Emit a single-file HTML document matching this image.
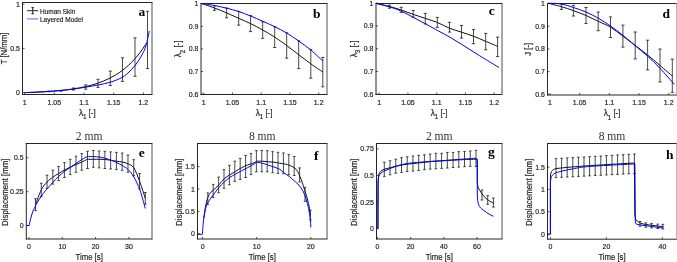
<!DOCTYPE html>
<html><head><meta charset="utf-8"><style>
html,body{margin:0;padding:0;background:#fff;width:677px;height:262px;overflow:hidden}
svg{display:block;will-change:transform;filter:blur(0.3px)}
.t{font-family:"Liberation Sans",sans-serif;font-size:7.3px;fill:#262626;stroke:#262626;stroke-width:0.18px}
.l{font-family:"Liberation Sans",sans-serif;font-size:8px;fill:#262626;stroke:#262626;stroke-width:0.18px}
.lg{font-family:"Liberation Sans",sans-serif;font-size:6.5px;fill:#111;stroke:#111;stroke-width:0.12px}
.ltr{font-family:"Liberation Serif",serif;font-size:13.5px;font-weight:bold;fill:#000}
.ttl{font-family:"Liberation Serif",serif;font-size:11.6px;fill:#333}
</style></head><body>
<svg width="677" height="262" viewBox="0 0 677 262">
<rect width="677" height="262" fill="#fff"/>
<path d="M22.5,2.5 H152 M22.5,2.5 V94.5" stroke="#262626" stroke-width="1" fill="none" stroke-linecap="square"/>
<path d="M22.5,94.5 H152" stroke="#262626" stroke-width="1" fill="none" stroke-linecap="square"/>
<path d="M152,2.5 V94.5" stroke="#505050" stroke-width="1" fill="none"/>
<path d="M24.6,94.5 V92.5" stroke="#262626" stroke-width="0.8"/>
<text transform="translate(24.6,104.5) scale(0.96,1.06)" text-anchor="middle" class="t">1</text>
<path d="M54.3,94.5 V92.5" stroke="#262626" stroke-width="0.8"/>
<text transform="translate(54.3,104.5) scale(0.96,1.06)" text-anchor="middle" class="t">1.05</text>
<path d="M84,94.5 V92.5" stroke="#262626" stroke-width="0.8"/>
<text transform="translate(84,104.5) scale(0.96,1.06)" text-anchor="middle" class="t">1.1</text>
<path d="M113.7,94.5 V92.5" stroke="#262626" stroke-width="0.8"/>
<text transform="translate(113.7,104.5) scale(0.96,1.06)" text-anchor="middle" class="t">1.15</text>
<path d="M143.4,94.5 V92.5" stroke="#262626" stroke-width="0.8"/>
<text transform="translate(143.4,104.5) scale(0.96,1.06)" text-anchor="middle" class="t">1.2</text>
<path d="M22.5,92.6 H24.5" stroke="#262626" stroke-width="0.8"/>
<text transform="translate(19.9,95.1) scale(0.96,1.06)" text-anchor="end" class="t">0</text>
<path d="M22.5,48.4 H24.5" stroke="#262626" stroke-width="0.8"/>
<text transform="translate(19.9,50.9) scale(0.96,1.06)" text-anchor="end" class="t">0.5</text>
<path d="M22.5,4.2 H24.5" stroke="#262626" stroke-width="0.8"/>
<text transform="translate(19.9,6.7) scale(0.96,1.06)" text-anchor="end" class="t">1</text>
<text transform="translate(87.25,115.9) scale(0.97,1.1)" text-anchor="middle" class="l"><tspan font-size="8.5">&#955;</tspan><tspan dy="3.2" font-size="6.5">1</tspan><tspan dy="-3.2"> [-]</tspan></text>
<text transform="translate(7.2,48.5) rotate(-90) scale(0.97,1.1)" text-anchor="middle" class="l">T [N/mm]</text>
<text x="138.5" y="15.5" class="ltr">a</text>
<path d="M24.6,92.6 C25.62,92.57 28.67,92.48 30.7,92.4 C32.73,92.33 34.77,92.25 36.8,92.16 C38.83,92.07 40.87,91.97 42.9,91.86 C44.93,91.74 46.97,91.62 49,91.48 C51.03,91.34 53.07,91.19 55.1,91.02 C57.13,90.85 59.17,90.66 61.2,90.45 C63.23,90.24 65.27,90.02 67.3,89.76 C69.33,89.5 71.37,89.22 73.4,88.91 C75.43,88.59 77.47,88.25 79.5,87.87 C81.53,87.48 83.57,87.07 85.6,86.6 C87.63,86.13 89.67,85.63 91.7,85.05 C93.73,84.48 95.77,83.87 97.8,83.17 C99.83,82.47 101.87,81.72 103.9,80.87 C105.93,80.02 107.97,79.11 110,78.08 C112.03,77.05 114.07,75.93 116.1,74.68 C118.13,73.42 120.17,72.07 122.2,70.54 C124.23,69.01 126.27,67.37 128.3,65.51 C130.33,63.65 132.37,61.65 134.4,59.39 C136.43,57.13 138.47,54.7 140.5,51.95 C142.53,49.2 145.58,44.41 146.6,42.91" stroke="#111" stroke-width="1.0" fill="none" stroke-linejoin="round"/>
<path d="M48.8,91.1 V91.7 M47.2,91.1 H50.4 M47.2,91.7 H50.4 M61,90.3 V91.2 M59.4,90.3 H62.6 M59.4,91.2 H62.6 M73.6,88 V90 M72,88 H75.2 M72,90 H75.2 M85.7,84.9 V89.2 M84.1,84.9 H87.3 M84.1,89.2 H87.3 M98,79.3 V87.4 M96.4,79.3 H99.6 M96.4,87.4 H99.6 M110.3,71.1 V85.5 M108.7,71.1 H111.9 M108.7,85.5 H111.9 M122.5,57.8 V81.4 M120.9,57.8 H124.1 M120.9,81.4 H124.1 M135,37.9 V76.3 M133.4,37.9 H136.6 M133.4,76.3 H136.6 M147.5,11.3 V68.5 M145.9,11.3 H149.1 M145.9,68.5 H149.1 " stroke="#1a1a1a" stroke-width="0.8" fill="none"/>
<path d="M24.6,92.6 C26.65,92.52 32.87,92.3 36.9,92.1 C40.93,91.9 44.78,91.67 48.8,91.4 C52.82,91.13 56.92,90.88 61,90.5 C65.08,90.12 69.18,89.65 73.3,89.1 C77.42,88.55 81.58,87.88 85.7,87.2 C89.82,86.52 93.9,85.83 98,85 C102.1,84.17 106.47,83.37 110.3,82.2 C114.13,81.03 118.05,79.53 121,78 C123.95,76.47 125.63,75.12 128,73 C130.37,70.88 132.98,68.13 135.2,65.3 C137.42,62.47 139.52,59.22 141.3,56 C143.08,52.78 144.57,50.17 145.9,46 C147.23,41.83 148.73,33.5 149.3,31" stroke="#0000ff" stroke-width="1.0" fill="none" stroke-linejoin="round"/>
<path d="M27,10.7 H38.3 M32.7,7.6 V13.8 M31.4,7.6 H34 M31.4,13.8 H34" stroke="#111" stroke-width="0.9"/>
<path d="M27,18.9 H38.3" stroke="#6b6bff" stroke-width="1.1"/>
<text x="40" y="13.8" class="lg">Human Skin</text>
<text x="40" y="21.5" class="lg">Layered Model</text>
<path d="M201,3.5 H327 M201,3.5 V94.5" stroke="#262626" stroke-width="1" fill="none" stroke-linecap="square"/>
<path d="M201,94.5 H327" stroke="#262626" stroke-width="1" fill="none" stroke-linecap="square"/>
<path d="M327,3.5 V94.5" stroke="#505050" stroke-width="1" fill="none"/>
<path d="M203.7,94.5 V92.5" stroke="#262626" stroke-width="0.8"/>
<text transform="translate(203.7,104.5) scale(0.96,1.06)" text-anchor="middle" class="t">1</text>
<path d="M232.45,94.5 V92.5" stroke="#262626" stroke-width="0.8"/>
<text transform="translate(232.45,104.5) scale(0.96,1.06)" text-anchor="middle" class="t">1.05</text>
<path d="M261.2,94.5 V92.5" stroke="#262626" stroke-width="0.8"/>
<text transform="translate(261.2,104.5) scale(0.96,1.06)" text-anchor="middle" class="t">1.1</text>
<path d="M289.95,94.5 V92.5" stroke="#262626" stroke-width="0.8"/>
<text transform="translate(289.95,104.5) scale(0.96,1.06)" text-anchor="middle" class="t">1.15</text>
<path d="M318.7,94.5 V92.5" stroke="#262626" stroke-width="0.8"/>
<text transform="translate(318.7,104.5) scale(0.96,1.06)" text-anchor="middle" class="t">1.2</text>
<path d="M201,3.8 H203" stroke="#262626" stroke-width="0.8"/>
<text transform="translate(198.4,6.3) scale(0.96,1.06)" text-anchor="end" class="t">1</text>
<path d="M201,26.37 H203" stroke="#262626" stroke-width="0.8"/>
<text transform="translate(198.4,28.87) scale(0.96,1.06)" text-anchor="end" class="t">0.9</text>
<path d="M201,48.95 H203" stroke="#262626" stroke-width="0.8"/>
<text transform="translate(198.4,51.45) scale(0.96,1.06)" text-anchor="end" class="t">0.8</text>
<path d="M201,71.53 H203" stroke="#262626" stroke-width="0.8"/>
<text transform="translate(198.4,74.03) scale(0.96,1.06)" text-anchor="end" class="t">0.7</text>
<path d="M201,94.1 H203" stroke="#262626" stroke-width="0.8"/>
<text transform="translate(198.4,96.6) scale(0.96,1.06)" text-anchor="end" class="t">0.6</text>
<text transform="translate(264,115.9) scale(0.97,1.1)" text-anchor="middle" class="l"><tspan font-size="8.5">&#955;</tspan><tspan dy="3.2" font-size="6.5">1</tspan><tspan dy="-3.2"> [-]</tspan></text>
<text transform="translate(181,49) rotate(-90) scale(0.97,1.1)" text-anchor="middle" class="l"><tspan font-size="8.5">&#955;</tspan><tspan dy="3.2" font-size="6.5">2</tspan><tspan dy="-3.2"> [-]</tspan></text>
<text x="313" y="17.5" class="ltr">b</text>
<path d="M201.4,3.4 C203.58,4.17 210.3,6.42 214.5,8 C218.7,9.58 222.57,11.18 226.6,12.9 C230.63,14.62 234.7,16.52 238.7,18.3 C242.7,20.08 246.6,21.65 250.6,23.6 C254.6,25.55 258.68,27.75 262.7,30 C266.72,32.25 270.7,34.52 274.7,37.1 C278.7,39.68 282.7,42.57 286.7,45.5 C290.7,48.43 294.68,51.65 298.7,54.7 C302.72,57.75 306.78,60.9 310.8,63.8 C314.82,66.7 320.8,70.72 322.8,72.1" stroke="#111" stroke-width="1.0" fill="none" stroke-linejoin="round"/>
<path d="M214.5,5.7 V10.3 M212.9,5.7 H216.1 M212.9,10.3 H216.1 M226.6,8 V17.8 M225,8 H228.2 M225,17.8 H228.2 M238.7,11.4 V25.2 M237.1,11.4 H240.3 M237.1,25.2 H240.3 M250.6,15.6 V31.6 M249,15.6 H252.2 M249,31.6 H252.2 M262.7,21.7 V38.4 M261.1,21.7 H264.3 M261.1,38.4 H264.3 M274.7,26.7 V47.5 M273.1,26.7 H276.3 M273.1,47.5 H276.3 M286.7,32.8 V58.2 M285.1,32.8 H288.3 M285.1,58.2 H288.3 M298.7,40.8 V68.6 M297.1,40.8 H300.3 M297.1,68.6 H300.3 M310.8,49.4 V78.2 M309.2,49.4 H312.4 M309.2,78.2 H312.4 M322.8,57.4 V86.8 M321.2,57.4 H324.4 M321.2,86.8 H324.4 " stroke="#1a1a1a" stroke-width="0.8" fill="none"/>
<path d="M201.4,3.4 C203.58,3.75 210.3,4.7 214.5,5.5 C218.7,6.3 222.57,7.2 226.6,8.2 C230.63,9.2 234.7,10.2 238.7,11.5 C242.7,12.8 246.6,14.37 250.6,16 C254.6,17.63 258.68,19.52 262.7,21.3 C266.72,23.08 270.7,24.75 274.7,26.7 C278.7,28.65 282.7,30.62 286.7,33 C290.7,35.38 294.68,38.17 298.7,41 C302.72,43.83 306.78,46.67 310.8,50 C314.82,53.33 320.8,59.17 322.8,61" stroke="#0000ff" stroke-width="1.0" fill="none" stroke-linejoin="round"/>
<path d="M376,3.5 H502 M376,3.5 V94.5" stroke="#262626" stroke-width="1" fill="none" stroke-linecap="square"/>
<path d="M376,94.5 H502" stroke="#262626" stroke-width="1" fill="none" stroke-linecap="square"/>
<path d="M502,3.5 V94.5" stroke="#505050" stroke-width="1" fill="none"/>
<path d="M379.2,94.5 V92.5" stroke="#262626" stroke-width="0.8"/>
<text transform="translate(379.2,104.5) scale(0.96,1.06)" text-anchor="middle" class="t">1</text>
<path d="M407.95,94.5 V92.5" stroke="#262626" stroke-width="0.8"/>
<text transform="translate(407.95,104.5) scale(0.96,1.06)" text-anchor="middle" class="t">1.05</text>
<path d="M436.7,94.5 V92.5" stroke="#262626" stroke-width="0.8"/>
<text transform="translate(436.7,104.5) scale(0.96,1.06)" text-anchor="middle" class="t">1.1</text>
<path d="M465.45,94.5 V92.5" stroke="#262626" stroke-width="0.8"/>
<text transform="translate(465.45,104.5) scale(0.96,1.06)" text-anchor="middle" class="t">1.15</text>
<path d="M494.2,94.5 V92.5" stroke="#262626" stroke-width="0.8"/>
<text transform="translate(494.2,104.5) scale(0.96,1.06)" text-anchor="middle" class="t">1.2</text>
<path d="M376,3.2 H378" stroke="#262626" stroke-width="0.8"/>
<text transform="translate(373.4,5.7) scale(0.96,1.06)" text-anchor="end" class="t">1</text>
<path d="M376,25.95 H378" stroke="#262626" stroke-width="0.8"/>
<text transform="translate(373.4,28.45) scale(0.96,1.06)" text-anchor="end" class="t">0.9</text>
<path d="M376,48.7 H378" stroke="#262626" stroke-width="0.8"/>
<text transform="translate(373.4,51.2) scale(0.96,1.06)" text-anchor="end" class="t">0.8</text>
<path d="M376,71.45 H378" stroke="#262626" stroke-width="0.8"/>
<text transform="translate(373.4,73.95) scale(0.96,1.06)" text-anchor="end" class="t">0.7</text>
<path d="M376,94.2 H378" stroke="#262626" stroke-width="0.8"/>
<text transform="translate(373.4,96.7) scale(0.96,1.06)" text-anchor="end" class="t">0.6</text>
<text transform="translate(439,115.9) scale(0.97,1.1)" text-anchor="middle" class="l"><tspan font-size="8.5">&#955;</tspan><tspan dy="3.2" font-size="6.5">1</tspan><tspan dy="-3.2"> [-]</tspan></text>
<text transform="translate(356.5,49) rotate(-90) scale(0.97,1.1)" text-anchor="middle" class="l"><tspan font-size="8.5">&#955;</tspan><tspan dy="3.2" font-size="6.5">3</tspan><tspan dy="-3.2"> [-]</tspan></text>
<text x="488.7" y="15.3" class="ltr">c</text>
<path d="M376,3.2 C378.2,3.73 384.95,5.25 389.2,6.4 C393.45,7.55 397.48,8.77 401.5,10.1 C405.52,11.43 409.33,13.02 413.3,14.4 C417.27,15.78 421.32,17.07 425.3,18.4 C429.28,19.73 433.13,20.75 437.2,22.4 C441.27,24.05 445.62,26.67 449.7,28.3 C453.78,29.93 457.7,30.87 461.7,32.2 C465.7,33.53 469.68,34.77 473.7,36.3 C477.72,37.83 481.78,39.72 485.8,41.4 C489.82,43.08 495.8,45.57 497.8,46.4" stroke="#111" stroke-width="1.0" fill="none" stroke-linejoin="round"/>
<path d="M389.4,5.2 V8.2 M387.8,5.2 H391 M387.8,8.2 H391 M401.2,7.3 V12.5 M399.6,7.3 H402.8 M399.6,12.5 H402.8 M413.2,10.4 V17.1 M411.6,10.4 H414.8 M411.6,17.1 H414.8 M425.3,13.4 V24 M423.7,13.4 H426.9 M423.7,24 H426.9 M437.3,17.4 V27.4 M435.7,17.4 H438.9 M435.7,27.4 H438.9 M449.5,22.3 V32.1 M447.9,22.3 H451.1 M447.9,32.1 H451.1 M461.5,25.4 V38.1 M459.9,25.4 H463.1 M459.9,38.1 H463.1 M473.5,29.5 V43.7 M471.9,29.5 H475.1 M471.9,43.7 H475.1 M485.7,33.4 V49.8 M484.1,33.4 H487.3 M484.1,49.8 H487.3 M497.6,37.1 V56.6 M496,37.1 H499.2 M496,56.6 H499.2 " stroke="#1a1a1a" stroke-width="0.8" fill="none"/>
<path d="M376,3.5 C378.25,4.07 385.35,5.67 389.5,6.9 C393.65,8.13 396.97,9.17 400.9,10.9 C404.83,12.63 409.02,15.15 413.1,17.3 C417.18,19.45 421.38,21.63 425.4,23.8 C429.42,25.97 433.15,28.1 437.2,30.3 C441.25,32.5 445.62,34.65 449.7,37 C453.78,39.35 457.7,41.9 461.7,44.4 C465.7,46.9 469.68,49.48 473.7,52 C477.72,54.52 481.58,56.92 485.8,59.5 C490.02,62.08 496.8,66.17 499,67.5" stroke="#0000ff" stroke-width="1.0" fill="none" stroke-linejoin="round"/>
<path d="M547.5,3.5 H676.5 M547.5,3.5 V95" stroke="#262626" stroke-width="1" fill="none" stroke-linecap="square"/>
<path d="M547.5,95 H676.5" stroke="#262626" stroke-width="1" fill="none" stroke-linecap="square"/>
<path d="M676.5,3.5 V95" stroke="#b8b8b8" stroke-width="1" fill="none"/>
<path d="M550,95 V93" stroke="#262626" stroke-width="0.8"/>
<text transform="translate(550,105) scale(0.96,1.06)" text-anchor="middle" class="t">1</text>
<path d="M579.68,95 V93" stroke="#262626" stroke-width="0.8"/>
<text transform="translate(579.68,105) scale(0.96,1.06)" text-anchor="middle" class="t">1.05</text>
<path d="M609.35,95 V93" stroke="#262626" stroke-width="0.8"/>
<text transform="translate(609.35,105) scale(0.96,1.06)" text-anchor="middle" class="t">1.1</text>
<path d="M639.02,95 V93" stroke="#262626" stroke-width="0.8"/>
<text transform="translate(639.02,105) scale(0.96,1.06)" text-anchor="middle" class="t">1.15</text>
<path d="M668.7,95 V93" stroke="#262626" stroke-width="0.8"/>
<text transform="translate(668.7,105) scale(0.96,1.06)" text-anchor="middle" class="t">1.2</text>
<path d="M547.5,3.5 H549.5" stroke="#262626" stroke-width="0.8"/>
<text transform="translate(544.9,6) scale(0.96,1.06)" text-anchor="end" class="t">1</text>
<path d="M547.5,26.22 H549.5" stroke="#262626" stroke-width="0.8"/>
<text transform="translate(544.9,28.72) scale(0.96,1.06)" text-anchor="end" class="t">0.9</text>
<path d="M547.5,48.94 H549.5" stroke="#262626" stroke-width="0.8"/>
<text transform="translate(544.9,51.44) scale(0.96,1.06)" text-anchor="end" class="t">0.8</text>
<path d="M547.5,71.66 H549.5" stroke="#262626" stroke-width="0.8"/>
<text transform="translate(544.9,74.16) scale(0.96,1.06)" text-anchor="end" class="t">0.7</text>
<path d="M547.5,94.38 H549.5" stroke="#262626" stroke-width="0.8"/>
<text transform="translate(544.9,96.88) scale(0.96,1.06)" text-anchor="end" class="t">0.6</text>
<text transform="translate(612,116.4) scale(0.97,1.1)" text-anchor="middle" class="l"><tspan font-size="8.5">&#955;</tspan><tspan dy="3.2" font-size="6.5">1</tspan><tspan dy="-3.2"> [-]</tspan></text>
<text transform="translate(530.5,49.25) rotate(-90) scale(0.97,1.1)" text-anchor="middle" class="l">J [-]</text>
<text x="662.5" y="17.5" class="ltr">d</text>
<path d="M548,3.2 C550.23,3.78 557.17,5.47 561.4,6.7 C565.63,7.93 569.3,9.13 573.4,10.6 C577.5,12.07 581.87,13.72 586,15.5 C590.13,17.28 594.12,19.35 598.2,21.3 C602.28,23.25 606.38,24.73 610.5,27.2 C614.62,29.67 618.78,33.07 622.9,36.1 C627.02,39.13 631.08,42.25 635.2,45.4 C639.32,48.55 643.47,51.65 647.6,55 C651.73,58.35 655.8,61.93 660,65.5 C664.2,69.07 670.67,74.58 672.8,76.4" stroke="#111" stroke-width="1.0" fill="none" stroke-linejoin="round"/>
<path d="M561.4,4 V9.4 M559.8,4 H563 M559.8,9.4 H563 M573.4,5.3 V16 M571.8,5.3 H575 M571.8,16 H575 M586,7.5 V23.5 M584.4,7.5 H587.6 M584.4,23.5 H587.6 M598.2,12 V30.7 M596.6,12 H599.8 M596.6,30.7 H599.8 M610.5,16.9 V37.5 M608.9,16.9 H612.1 M608.9,37.5 H612.1 M622.9,25.1 V47.1 M621.3,25.1 H624.5 M621.3,47.1 H624.5 M635.2,32 V58.9 M633.6,32 H636.8 M633.6,58.9 H636.8 M647.6,40.2 V69.9 M646,40.2 H649.2 M646,69.9 H649.2 M660,49 V82 M658.4,49 H661.6 M658.4,82 H661.6 M672.3,59.2 V92.3 M670.7,59.2 H673.9 M670.7,92.3 H673.9 " stroke="#1a1a1a" stroke-width="0.8" fill="none"/>
<path d="M548,3.2 C550.23,3.33 557.17,3.28 561.4,4 C565.63,4.72 569.3,6.17 573.4,7.5 C577.5,8.83 581.87,10.22 586,12 C590.13,13.78 594.12,15.87 598.2,18.2 C602.28,20.53 606.38,23.15 610.5,26 C614.62,28.85 618.78,32.02 622.9,35.3 C627.02,38.58 631.08,42.22 635.2,45.7 C639.32,49.18 643.47,52.43 647.6,56.2 C651.73,59.97 655.55,63.62 660,68.3 C664.45,72.98 671.92,81.63 674.3,84.3" stroke="#0000ff" stroke-width="1.0" fill="none" stroke-linejoin="round"/>
<path d="M26.3,143.5 H152 M26.3,143.5 V239" stroke="#262626" stroke-width="1" fill="none" stroke-linecap="square"/>
<path d="M26.3,239 H152" stroke="#262626" stroke-width="1" fill="none" stroke-linecap="square"/>
<path d="M152,143.5 V239" stroke="#505050" stroke-width="1" fill="none"/>
<path d="M29,239 V237" stroke="#262626" stroke-width="0.8"/>
<text transform="translate(29,249) scale(0.96,1.06)" text-anchor="middle" class="t">0</text>
<path d="M62.3,239 V237" stroke="#262626" stroke-width="0.8"/>
<text transform="translate(62.3,249) scale(0.96,1.06)" text-anchor="middle" class="t">10</text>
<path d="M95.6,239 V237" stroke="#262626" stroke-width="0.8"/>
<text transform="translate(95.6,249) scale(0.96,1.06)" text-anchor="middle" class="t">20</text>
<path d="M128.9,239 V237" stroke="#262626" stroke-width="0.8"/>
<text transform="translate(128.9,249) scale(0.96,1.06)" text-anchor="middle" class="t">30</text>
<path d="M26.3,225.6 H28.3" stroke="#262626" stroke-width="0.8"/>
<text transform="translate(23.7,228.1) scale(0.96,1.06)" text-anchor="end" class="t">0</text>
<path d="M26.3,191.7 H28.3" stroke="#262626" stroke-width="0.8"/>
<text transform="translate(23.7,194.2) scale(0.96,1.06)" text-anchor="end" class="t">0.25</text>
<path d="M26.3,157.8 H28.3" stroke="#262626" stroke-width="0.8"/>
<text transform="translate(23.7,160.3) scale(0.96,1.06)" text-anchor="end" class="t">0.5</text>
<text transform="translate(89.15,259.8) scale(0.97,1.1)" text-anchor="middle" class="l">Time [s]</text>
<text transform="translate(7.6,192.25) rotate(-90) scale(0.985,1.1)" text-anchor="middle" class="l">Displacement [mm]</text>
<text x="138.7" y="157.3" class="ltr">e</text>
<text x="89.15" y="140.3" text-anchor="middle" class="ttl">2 mm</text>
<path d="M35.5,204.6 C36.47,202.13 39.37,193.57 41.3,189.8 C43.23,186.03 45.18,184.1 47.1,182 C49.02,179.9 50.88,178.62 52.8,177.2 C54.72,175.78 56.67,174.7 58.6,173.5 C60.53,172.3 62.5,171.03 64.4,170 C66.3,168.97 68.12,168.18 70,167.3 C71.88,166.42 73.78,165.55 75.7,164.7 C77.62,163.85 79.58,163.1 81.5,162.2 C83.42,161.3 86.25,159.78 87.2,159.3" stroke="#111" stroke-width="1.0" fill="none" stroke-linejoin="round"/>
<path d="M87.2,159.3 C88.25,159.3 91.55,159.3 93.5,159.3 C95.45,159.3 97.08,159.28 98.9,159.3 C100.72,159.32 102.5,159.25 104.4,159.4 C106.3,159.55 108.3,159.9 110.3,160.2 C112.3,160.5 114.42,160.9 116.4,161.2 C118.38,161.5 120.27,161.57 122.2,162 C124.13,162.43 126.07,162.83 128,163.8 C129.93,164.77 131.88,164.93 133.8,167.8 C135.72,170.67 137.58,175.92 139.5,181 C141.42,186.08 144.33,195.42 145.3,198.3" stroke="#111" stroke-width="1.0" fill="none" stroke-linejoin="round"/>
<path d="M35.5,198.7 V210.6 M34.2,198.7 H36.8 M34.2,210.6 H36.8 M41.28,183.2 V196.4 M39.98,183.2 H42.58 M39.98,196.4 H42.58 M47.06,175.2 V188.5 M45.76,175.2 H48.36 M45.76,188.5 H48.36 M52.84,170.2 V184.1 M51.54,170.2 H54.14 M51.54,184.1 H54.14 M58.62,166.4 V180.7 M57.32,166.4 H59.92 M57.32,180.7 H59.92 M64.4,162.6 V177.4 M63.1,162.6 H65.7 M63.1,177.4 H65.7 M70.18,159.3 V174.6 M68.88,159.3 H71.48 M68.88,174.6 H71.48 M75.96,156.2 V172.3 M74.66,156.2 H77.26 M74.66,172.3 H77.26 M81.74,153.6 V170.2 M80.44,153.6 H83.04 M80.44,170.2 H83.04 M87.52,151.3 V168.5 M86.22,151.3 H88.82 M86.22,168.5 H88.82 M93.3,150.5 V167.3 M92,150.5 H94.6 M92,167.3 H94.6 M99.08,151 V167.9 M97.78,151 H100.38 M97.78,167.9 H100.38 M104.86,151.3 V168.5 M103.56,151.3 H106.16 M103.56,168.5 H106.16 M110.64,151.9 V169 M109.34,151.9 H111.94 M109.34,169 H111.94 M116.42,152.4 V169.6 M115.12,152.4 H117.72 M115.12,169.6 H117.72 M122.2,153 V170.3 M120.9,153 H123.5 M120.9,170.3 H123.5 M127.98,155.1 V172.2 M126.68,155.1 H129.28 M126.68,172.2 H129.28 M133.76,159.7 V175.7 M132.46,159.7 H135.06 M132.46,175.7 H135.06 M139.54,173.5 V189 M138.24,173.5 H140.84 M138.24,189 H140.84 M145.32,192.5 V204.2 M144.02,192.5 H146.62 M144.02,204.2 H146.62 " stroke="#1a1a1a" stroke-width="0.8" fill="none"/>
<path d="M26.3,225.5 L29.1,225.5" stroke="#0000ff" stroke-width="1"/>
<path d="M29.1,225.5 C29.38,224.28 30.2,220.48 30.8,218.2 C31.4,215.92 32.07,213.57 32.7,211.8 C33.33,210.03 33.8,209.23 34.6,207.6 C35.4,205.97 36.38,203.9 37.5,202 C38.62,200.1 40.03,198 41.3,196.2 C42.57,194.4 43.98,192.6 45.1,191.2 C46.22,189.8 46.75,189.23 48,187.8 C49.25,186.37 50.82,184.5 52.6,182.6 C54.38,180.7 56.67,178.32 58.7,176.4 C60.73,174.48 62.75,172.67 64.8,171.1 C66.85,169.53 69.12,168.3 71,167 C72.88,165.7 74.3,164.53 76.1,163.3 C77.9,162.07 79.95,160.73 81.8,159.6 C83.65,158.47 86.3,157.02 87.2,156.5" stroke="#0000ff" stroke-width="1.0" fill="none" stroke-linejoin="round"/>
<path d="M87.2,156.5 C88.33,156.52 92.03,156.52 94,156.6 C95.97,156.68 97.22,156.75 99,157 C100.78,157.25 102.78,157.6 104.7,158.1 C106.62,158.6 108.58,159.3 110.5,160 C112.42,160.7 114.27,161.38 116.2,162.3 C118.13,163.22 120.13,164.3 122.1,165.5 C124.07,166.7 126.03,167.58 128,169.5 C129.97,171.42 131.9,173.53 133.9,177 C135.9,180.47 138.1,185.05 140,190.3 C141.9,195.55 144.42,205.47 145.3,208.5" stroke="#0000ff" stroke-width="1.0" fill="none" stroke-linejoin="round"/>
<path d="M197.5,143.5 H327 M197.5,143.5 V239" stroke="#262626" stroke-width="1" fill="none" stroke-linecap="square"/>
<path d="M197.5,239 H327" stroke="#262626" stroke-width="1" fill="none" stroke-linecap="square"/>
<path d="M327,143.5 V239" stroke="#505050" stroke-width="1" fill="none"/>
<path d="M202.6,239 V237" stroke="#262626" stroke-width="0.8"/>
<text transform="translate(202.6,249) scale(0.96,1.06)" text-anchor="middle" class="t">0</text>
<path d="M256.7,239 V237" stroke="#262626" stroke-width="0.8"/>
<text transform="translate(256.7,249) scale(0.96,1.06)" text-anchor="middle" class="t">10</text>
<path d="M310.8,239 V237" stroke="#262626" stroke-width="0.8"/>
<text transform="translate(310.8,249) scale(0.96,1.06)" text-anchor="middle" class="t">20</text>
<path d="M197.5,233.5 H199.5" stroke="#262626" stroke-width="0.8"/>
<text transform="translate(194.9,236) scale(0.96,1.06)" text-anchor="end" class="t">0</text>
<path d="M197.5,211.25 H199.5" stroke="#262626" stroke-width="0.8"/>
<text transform="translate(194.9,213.75) scale(0.96,1.06)" text-anchor="end" class="t">0.5</text>
<path d="M197.5,189 H199.5" stroke="#262626" stroke-width="0.8"/>
<text transform="translate(194.9,191.5) scale(0.96,1.06)" text-anchor="end" class="t">1</text>
<path d="M197.5,166.75 H199.5" stroke="#262626" stroke-width="0.8"/>
<text transform="translate(194.9,169.25) scale(0.96,1.06)" text-anchor="end" class="t">1.5</text>
<text transform="translate(262.25,259.8) scale(0.97,1.1)" text-anchor="middle" class="l">Time [s]</text>
<text transform="translate(181.7,192.25) rotate(-90) scale(0.985,1.1)" text-anchor="middle" class="l">Displacement [mm]</text>
<text x="314.1" y="159.5" class="ltr">f</text>
<text x="262.25" y="140.3" text-anchor="middle" class="ttl">8 mm</text>
<path d="M203.8,218 C204.15,215.8 205.13,208.45 205.9,204.8 C206.67,201.15 207.37,198.38 208.4,196.1 C209.43,193.82 211,192.33 212.1,191.1 C213.2,189.87 213.85,189.77 215,188.7 C216.15,187.63 217.45,186.37 219,184.7 C220.55,183.03 222.52,180.33 224.3,178.7 C226.08,177.07 227.87,176.1 229.7,174.9 C231.53,173.7 233.33,172.68 235.3,171.5 C237.27,170.32 239.52,168.87 241.5,167.8 C243.48,166.73 245.3,165.87 247.2,165.1 C249.1,164.33 251.3,163.85 252.9,163.2 C254.5,162.55 256.15,161.53 256.8,161.2" stroke="#111" stroke-width="1.0" fill="none" stroke-linejoin="round"/>
<path d="M256.8,161.2 C257.75,161.2 260.6,161.1 262.5,161.2 C264.4,161.3 266.28,161.63 268.2,161.8 C270.12,161.97 272.08,161.97 274,162.2 C275.92,162.43 277.8,162.88 279.7,163.2 C281.6,163.52 283.68,163.7 285.4,164.1 C287.12,164.5 288.18,164.7 290,165.6 C291.82,166.5 294.45,167.22 296.3,169.5 C298.15,171.78 299.58,175.5 301.1,179.3 C302.62,183.1 304.15,188.23 305.4,192.3 C306.65,196.37 307.8,199.92 308.6,203.7 C309.4,207.48 309.93,213.12 310.2,215" stroke="#111" stroke-width="1.0" fill="none" stroke-linejoin="round"/>
<path d="M207.8,192.9 V204.3 M206.5,192.9 H209.1 M206.5,204.3 H209.1 M213.2,184.4 V197.4 M211.9,184.4 H214.5 M211.9,197.4 H214.5 M218.6,177.1 V192.7 M217.3,177.1 H219.9 M217.3,192.7 H219.9 M224,169.6 V188.3 M222.7,169.6 H225.3 M222.7,188.3 H225.3 M229.4,165.3 V184.7 M228.1,165.3 H230.7 M228.1,184.7 H230.7 M234.8,161.2 V181.3 M233.5,161.2 H236.1 M233.5,181.3 H236.1 M240.2,158.4 V179.4 M238.9,158.4 H241.5 M238.9,179.4 H241.5 M245.6,155.5 V177.5 M244.3,155.5 H246.9 M244.3,177.5 H246.9 M251,153.6 V174.6 M249.7,153.6 H252.3 M249.7,174.6 H252.3 M256.4,150.7 V171.8 M255.1,150.7 H257.7 M255.1,171.8 H257.7 M261.8,150.4 V171.8 M260.5,150.4 H263.1 M260.5,171.8 H263.1 M267.2,150.7 V171.8 M265.9,150.7 H268.5 M265.9,171.8 H268.5 M272.6,151.7 V172.7 M271.3,151.7 H273.9 M271.3,172.7 H273.9 M278,152.3 V173.3 M276.7,152.3 H279.3 M276.7,173.3 H279.3 M283.4,153 V173.7 M282.1,153 H284.7 M282.1,173.7 H284.7 M288.8,154.6 V174.6 M287.5,154.6 H290.1 M287.5,174.6 H290.1 M294.2,156.5 V175.5 M292.9,156.5 H295.5 M292.9,175.5 H295.5 M299.6,167.9 V181.9 M298.3,167.9 H300.9 M298.3,181.9 H300.9 M305,187.4 V201.4 M303.7,187.4 H306.3 M303.7,201.4 H306.3 M310.4,210.2 V219.9 M309.1,210.2 H311.7 M309.1,219.9 H311.7 " stroke="#1a1a1a" stroke-width="0.8" fill="none"/>
<path d="M197.4,234.3 L202.4,234.3" stroke="#0000ff" stroke-width="1"/>
<path d="M202.4,234.3 C202.58,232.08 202.92,225.5 203.5,221 C204.08,216.5 204.87,210.83 205.9,207.3 C206.93,203.77 208.18,202.23 209.7,199.8 C211.22,197.37 213.45,194.78 215,192.7 C216.55,190.62 217.45,189.08 219,187.3 C220.55,185.52 222.52,183.63 224.3,182 C226.08,180.37 227.87,178.8 229.7,177.5 C231.53,176.2 233.33,175.32 235.3,174.2 C237.27,173.08 239.52,171.85 241.5,170.8 C243.48,169.75 245.3,168.92 247.2,167.9 C249.1,166.88 251.3,165.65 252.9,164.7 C254.5,163.75 256.15,162.62 256.8,162.2" stroke="#0000ff" stroke-width="1.0" fill="none" stroke-linejoin="round"/>
<path d="M256.8,162.2 C257.75,162.37 260.6,162.72 262.5,163.2 C264.4,163.68 266.28,164.47 268.2,165.1 C270.12,165.73 272.08,166.3 274,167 C275.92,167.7 278.1,168.37 279.7,169.3 C281.3,170.23 281.92,171.35 283.6,172.6 C285.28,173.85 288.2,175.57 289.8,176.8 C291.4,178.03 291.85,178.8 293.2,180 C294.55,181.2 296.3,182.22 297.9,184 C299.5,185.78 301.45,188.23 302.8,190.7 C304.15,193.17 305.03,195.83 306,198.8 C306.97,201.77 307.9,205.25 308.6,208.5 C309.3,211.75 309.82,215.15 310.2,218.3 C310.58,221.45 310.78,225.88 310.9,227.4" stroke="#0000ff" stroke-width="1.0" fill="none" stroke-linejoin="round"/>
<path d="M376.5,143.5 H502 M376.5,143.5 V239" stroke="#262626" stroke-width="1" fill="none" stroke-linecap="square"/>
<path d="M376.5,239 H502" stroke="#262626" stroke-width="1" fill="none" stroke-linecap="square"/>
<path d="M502,143.5 V239" stroke="#505050" stroke-width="1" fill="none"/>
<path d="M377.4,239 V237" stroke="#262626" stroke-width="0.8"/>
<text transform="translate(377.4,249) scale(0.96,1.06)" text-anchor="middle" class="t">0</text>
<path d="M410.6,239 V237" stroke="#262626" stroke-width="0.8"/>
<text transform="translate(410.6,249) scale(0.96,1.06)" text-anchor="middle" class="t">20</text>
<path d="M443.8,239 V237" stroke="#262626" stroke-width="0.8"/>
<text transform="translate(443.8,249) scale(0.96,1.06)" text-anchor="middle" class="t">40</text>
<path d="M477,239 V237" stroke="#262626" stroke-width="0.8"/>
<text transform="translate(477,249) scale(0.96,1.06)" text-anchor="middle" class="t">60</text>
<path d="M376.5,228.6 H378.5" stroke="#262626" stroke-width="0.8"/>
<text transform="translate(373.9,231.1) scale(0.96,1.06)" text-anchor="end" class="t">0</text>
<path d="M376.5,202.03 H378.5" stroke="#262626" stroke-width="0.8"/>
<text transform="translate(373.9,204.53) scale(0.96,1.06)" text-anchor="end" class="t">0.25</text>
<path d="M376.5,175.45 H378.5" stroke="#262626" stroke-width="0.8"/>
<text transform="translate(373.9,177.95) scale(0.96,1.06)" text-anchor="end" class="t">0.5</text>
<path d="M376.5,148.88 H378.5" stroke="#262626" stroke-width="0.8"/>
<text transform="translate(373.9,151.38) scale(0.96,1.06)" text-anchor="end" class="t">0.75</text>
<text transform="translate(439.25,259.8) scale(0.97,1.1)" text-anchor="middle" class="l">Time [s]</text>
<text transform="translate(356.5,192.25) rotate(-90) scale(0.985,1.1)" text-anchor="middle" class="l">Displacement [mm]</text>
<text x="488.1" y="155.6" class="ltr">g</text>
<text x="439.25" y="140.3" text-anchor="middle" class="ttl">2 mm</text>
<path d="M377.9,228.6 L378.1,190" stroke="#111" stroke-width="1"/>
<path d="M378.1,190 C378.18,187.67 378.2,179.08 378.6,176 C379,172.92 379.55,172.62 380.5,171.5 C381.45,170.38 382.71,169.92 384.3,169.3 C385.89,168.68 388.12,168.32 390.03,167.8 C391.94,167.28 393.85,166.66 395.76,166.2 C397.67,165.74 399.58,165.39 401.49,165.05 C403.4,164.71 405.31,164.4 407.22,164.15 C409.13,163.9 411.04,163.76 412.95,163.55 C414.86,163.34 416.77,163.12 418.68,162.9 C420.59,162.68 422.5,162.47 424.41,162.25 C426.32,162.03 428.23,161.8 430.14,161.6 C432.05,161.4 433.96,161.18 435.87,161.05 C437.78,160.93 439.69,160.99 441.6,160.85 C443.51,160.71 445.42,160.35 447.33,160.2 C449.24,160.05 451.15,160.08 453.06,159.95 C454.97,159.82 456.88,159.55 458.79,159.4 C460.7,159.25 462.61,159.17 464.52,159.05 C466.43,158.93 468.34,158.82 470.25,158.7 C472.16,158.58 474.82,158.15 475.98,158.35 C477.14,158.55 477,159.64 477.2,159.9" stroke="#111" stroke-width="1.0" fill="none" stroke-linejoin="round"/>
<path d="M477.2,159.9 L477.3,182 C477.6,186 478.2,188 479.5,190 C481,192.5 484,197.5 487.7,199.8 C490,201.3 492,202.5 493.4,203" stroke="#111" stroke-width="1" fill="none"/>
<path d="M384.3,162.2 V176.4 M383,162.2 H385.6 M383,176.4 H385.6 M390.03,160.8 V174.8 M388.73,160.8 H391.33 M388.73,174.8 H391.33 M395.76,159.2 V173.2 M394.46,159.2 H397.06 M394.46,173.2 H397.06 M401.49,157.7 V172.4 M400.19,157.7 H402.79 M400.19,172.4 H402.79 M407.22,156.8 V171.5 M405.92,156.8 H408.52 M405.92,171.5 H408.52 M412.95,156 V171.1 M411.65,156 H414.25 M411.65,171.1 H414.25 M418.68,155.4 V170.4 M417.38,155.4 H419.98 M417.38,170.4 H419.98 M424.41,154.8 V169.7 M423.11,154.8 H425.71 M423.11,169.7 H425.71 M430.14,154.1 V169.1 M428.84,154.1 H431.44 M428.84,169.1 H431.44 M435.87,153.3 V168.8 M434.57,153.3 H437.17 M434.57,168.8 H437.17 M441.6,153.3 V168.4 M440.3,153.3 H442.9 M440.3,168.4 H442.9 M447.33,152.4 V168 M446.03,152.4 H448.63 M446.03,168 H448.63 M453.06,152.4 V167.5 M451.76,152.4 H454.36 M451.76,167.5 H454.36 M458.79,151.7 V167.1 M457.49,151.7 H460.09 M457.49,167.1 H460.09 M464.52,151.4 V166.7 M463.22,151.4 H465.82 M463.22,166.7 H465.82 M470.25,151 V166.4 M468.95,151 H471.55 M468.95,166.4 H471.55 M475.98,150.3 V166.4 M474.68,150.3 H477.28 M474.68,166.4 H477.28 M482,190 V200 M480.7,190 H483.3 M480.7,200 H483.3 M487.7,195.7 V204.3 M486.4,195.7 H489 M486.4,204.3 H489 M493.4,198 V207.1 M492.1,198 H494.7 M492.1,207.1 H494.7 " stroke="#1a1a1a" stroke-width="0.8" fill="none"/>
<path d="M377.9,228.6 L378,182 C378.3,176 379.5,173.5 383.4,171.5" stroke="#0000ff" stroke-width="1" fill="none"/>
<path d="M383.4,171.5 C384.77,170.9 388.5,169.07 391.6,167.9 C394.7,166.73 398.43,165.35 402,164.5 C405.57,163.65 408.3,163.3 413,162.8 C417.7,162.3 424.48,161.88 430.2,161.5 C435.92,161.12 441.58,160.82 447.3,160.5 C453.02,160.18 459.52,159.82 464.5,159.6 C469.48,159.38 475.08,159.27 477.2,159.2" stroke="#0000ff" stroke-width="1.0" fill="none" stroke-linejoin="round"/>
<path d="M477.2,159.2 L477.3,195 C477.5,203 478.8,206.5 481.4,208.6 C484,210.8 489,214.5 493.4,216.3" stroke="#0000ff" stroke-width="1" fill="none"/>
<path d="M547.5,143.5 H676.5 M547.5,143.5 V239.2" stroke="#262626" stroke-width="1" fill="none" stroke-linecap="square"/>
<path d="M547.5,239.2 H676.5" stroke="#262626" stroke-width="1" fill="none" stroke-linecap="square"/>
<path d="M676.5,143.5 V239.2" stroke="#b8b8b8" stroke-width="1" fill="none"/>
<path d="M550.4,239.2 V237.2" stroke="#262626" stroke-width="0.8"/>
<text transform="translate(550.4,249.2) scale(0.96,1.06)" text-anchor="middle" class="t">0</text>
<path d="M606.4,239.2 V237.2" stroke="#262626" stroke-width="0.8"/>
<text transform="translate(606.4,249.2) scale(0.96,1.06)" text-anchor="middle" class="t">20</text>
<path d="M662.4,239.2 V237.2" stroke="#262626" stroke-width="0.8"/>
<text transform="translate(662.4,249.2) scale(0.96,1.06)" text-anchor="middle" class="t">40</text>
<path d="M547.5,234 H549.5" stroke="#262626" stroke-width="0.8"/>
<text transform="translate(544.9,236.5) scale(0.96,1.06)" text-anchor="end" class="t">0</text>
<path d="M547.5,211.7 H549.5" stroke="#262626" stroke-width="0.8"/>
<text transform="translate(544.9,214.2) scale(0.96,1.06)" text-anchor="end" class="t">0.5</text>
<path d="M547.5,189.4 H549.5" stroke="#262626" stroke-width="0.8"/>
<text transform="translate(544.9,191.9) scale(0.96,1.06)" text-anchor="end" class="t">1</text>
<path d="M547.5,167.1 H549.5" stroke="#262626" stroke-width="0.8"/>
<text transform="translate(544.9,169.6) scale(0.96,1.06)" text-anchor="end" class="t">1.5</text>
<text transform="translate(612,260) scale(0.97,1.1)" text-anchor="middle" class="l">Time [s]</text>
<text transform="translate(531.5,192.35) rotate(-90) scale(0.985,1.1)" text-anchor="middle" class="l">Displacement [mm]</text>
<text x="666" y="158.9" class="ltr">h</text>
<text x="612" y="140.3" text-anchor="middle" class="ttl">8 mm</text>
<path d="M550.4,234 L550.4,178 C550.4,173 551.3,169.5 556,168.6" stroke="#111" stroke-width="1" fill="none"/>
<path d="M556,168.6 C557.83,168.4 562.17,167.83 567,167.4 C571.83,166.97 577.83,166.5 585,166 C592.17,165.5 601.77,164.9 610,164.4 C618.23,163.9 630.33,163.23 634.4,163" stroke="#111" stroke-width="1.0" fill="none" stroke-linejoin="round"/>
<path d="M634.4,163 L634.8,215 L635.7,219.5 L639.5,222.9" stroke="#111" stroke-width="1" fill="none"/>
<path d="M639.5,222.9 C640.55,223.17 643.8,224.12 645.8,224.5 C647.8,224.88 649.52,224.95 651.5,225.2 C653.48,225.45 655.72,225.75 657.7,226 C659.68,226.25 662.45,226.58 663.4,226.7" stroke="#111" stroke-width="1.0" fill="none" stroke-linejoin="round"/>
<path d="M556,158.6 V177.6 M554.7,158.6 H557.3 M554.7,177.6 H557.3 M561.6,158.27 V177.31 M560.3,158.27 H562.9 M560.3,177.31 H562.9 M567.2,157.94 V177.01 M565.9,157.94 H568.5 M565.9,177.01 H568.5 M572.8,157.61 V176.72 M571.5,157.61 H574.1 M571.5,176.72 H574.1 M578.4,157.29 V176.43 M577.1,157.29 H579.7 M577.1,176.43 H579.7 M584,156.96 V176.14 M582.7,156.96 H585.3 M582.7,176.14 H585.3 M589.6,156.63 V175.84 M588.3,156.63 H590.9 M588.3,175.84 H590.9 M595.2,156.3 V175.55 M593.9,156.3 H596.5 M593.9,175.55 H596.5 M600.8,155.97 V175.26 M599.5,155.97 H602.1 M599.5,175.26 H602.1 M606.4,155.64 V174.96 M605.1,155.64 H607.7 M605.1,174.96 H607.7 M612,155.31 V174.67 M610.7,155.31 H613.3 M610.7,174.67 H613.3 M617.6,154.99 V174.38 M616.3,154.99 H618.9 M616.3,174.38 H618.9 M623.2,154.66 V174.09 M621.9,154.66 H624.5 M621.9,174.09 H624.5 M628.8,154.33 V173.79 M627.5,154.33 H630.1 M627.5,173.79 H630.1 M634.4,154 V173.5 M633.1,154 H635.7 M633.1,173.5 H635.7 M640,221.5 V226.2 M638.7,221.5 H641.3 M638.7,226.2 H641.3 M645.8,222.9 V227.2 M644.5,222.9 H647.1 M644.5,227.2 H647.1 M651.5,223.4 V227.9 M650.2,223.4 H652.8 M650.2,227.9 H652.8 M657.7,224.1 V228.6 M656.4,224.1 H659 M656.4,228.6 H659 M662.9,224.3 V228.9 M661.6,224.3 H664.2 M661.6,228.9 H664.2 " stroke="#1a1a1a" stroke-width="0.8" fill="none"/>
<path d="M547.5,234.3 L550.4,234.3 L550.4,184 C550.5,177 551.7,174.3 556.4,172.6" stroke="#0000ff" stroke-width="1" fill="none"/>
<path d="M556.4,172.6 C557.67,172.27 561.13,171.25 564,170.6 C566.87,169.95 570.1,169.33 573.6,168.7 C577.1,168.07 578.93,167.38 585,166.8 C591.07,166.22 601.68,165.68 610,165.2 C618.32,164.72 630.75,164.12 634.9,163.9" stroke="#0000ff" stroke-width="1.0" fill="none" stroke-linejoin="round"/>
<path d="M634.9,163.9 L635.3,222 Q635.5,224.5 638,224.6 L663.4,228.1" stroke="#0000ff" stroke-width="1" fill="none"/>
</svg>
</body></html>
